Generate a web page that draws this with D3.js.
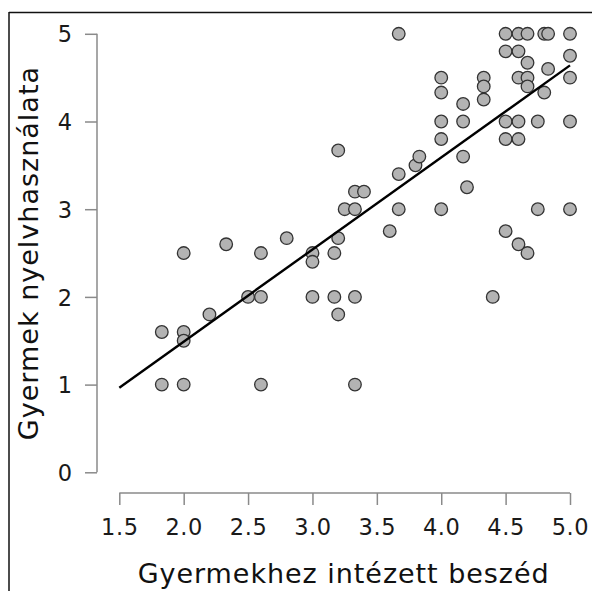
<!DOCTYPE html>
<html>
<head>
<meta charset="utf-8">
<script src="https://cdn.jsdelivr.net/npm/d3@7/dist/d3.min.js"></script>
<style>
  html, body { margin: 0; padding: 0; background: #fff; }
  svg { display: block; font-family: "DejaVu Sans", sans-serif; }
</style>
</head>
<body>
<svg id="chart" width="592" height="591"></svg>
<script>
// ---- data ----
const pointX = [
  1.83, 1.83,
  2.0, 2.0, 2.0, 2.0,
  2.2, 2.33, 2.5,
  2.6, 2.6, 2.6,
  2.8,
  3.0, 3.0, 3.0,
  3.17, 3.17,
  3.2, 3.2, 3.2,
  3.25,
  3.33, 3.33, 3.33, 3.33,
  3.4, 3.6,
  3.67, 3.67, 3.67,
  3.8, 3.83,
  4.0, 4.0, 4.0, 4.0, 4.0,
  4.17, 4.17, 4.17,
  4.2,
  4.33, 4.33, 4.33,
  4.4,
  4.5, 4.5, 4.5, 4.5, 4.5,
  4.6, 4.6, 4.6, 4.6, 4.6, 4.6,
  4.67, 4.67, 4.67, 4.67, 4.67,
  4.75, 4.75,
  4.8, 4.8,
  4.83, 4.83,
  5.0, 5.0, 5.0, 5.0, 5.0
];
const pointY = [
  1.6, 1.0,
  2.5, 1.6, 1.5, 1.0,
  1.8, 2.6, 2.0,
  2.5, 2.0, 1.0,
  2.67,
  2.5, 2.4, 2.0,
  2.5, 2.0,
  3.67, 2.67, 1.8,
  3.0,
  3.2, 3.0, 2.0, 1.0,
  3.2, 2.75,
  5.0, 3.4, 3.0,
  3.5, 3.6,
  4.5, 4.33, 4.0, 3.8, 3.0,
  4.2, 4.0, 3.6,
  3.25,
  4.5, 4.4, 4.25,
  2.0,
  5.0, 4.8, 4.0, 3.8, 2.75,
  5.0, 4.8, 4.5, 4.0, 3.8, 2.6,
  5.0, 4.67, 4.5, 4.4, 2.5,
  4.0, 3.0,
  5.0, 4.33,
  5.0, 4.6,
  5.0, 4.75, 4.5, 4.0, 3.0
];
const fitX = [1.5, 5.0];
const fitY = [0.965, 4.64];
const xTicks = [1.5, 2.0, 2.5, 3.0, 3.5, 4.0, 4.5, 5.0];
const yTicks = [0, 1, 2, 3, 4, 5];
const xTitle = "Gyermekhez intézett beszéd";
const yTitle = "Gyermek nyelvhasználata";

// ---- layout ----
const svg = d3.select("#chart");
const x = d3.scaleLinear().domain([1.5, 5.0]).range([119.3, 570]);
const y = d3.scaleLinear().domain([0, 5]).range([472.3, 33.8]);

// frame (partial border as in the reference crop)
svg.append("line").attr("x1", 9).attr("x2", 592).attr("y1", 12.5).attr("y2", 12.5)
  .attr("stroke", "#111").attr("stroke-width", 1.5);
svg.append("line").attr("x1", 9).attr("x2", 9).attr("y1", 12).attr("y2", 591)
  .attr("stroke", "#111").attr("stroke-width", 1.5);

const axisColor = "#8a8a8a";

// x axis
const xAxis = svg.append("g")
  .attr("transform", "translate(0,493)")
  .call(d3.axisBottom(x).tickValues(xTicks).tickFormat(d3.format(".1f"))
        .tickSizeOuter(0).tickSizeInner(12).tickPadding(6));
xAxis.select(".domain").attr("stroke", axisColor).attr("stroke-width", 1.5)
  .attr("d", `M${x(1.5)},0H${x(5.0)}`);
xAxis.selectAll(".tick line").attr("stroke", axisColor).attr("stroke-width", 1.5);
xAxis.selectAll(".tick text").attr("fill", "#1a1a1a")
  .style("font-size", "22.5px").style("font-family", "DejaVu Sans, sans-serif")
  .style("letter-spacing", "0.6px")
  .attr("dy", null).attr("y", 42);

// y axis
const yAxis = svg.append("g")
  .attr("transform", "translate(97,0)")
  .call(d3.axisLeft(y).tickValues(yTicks).tickFormat(d3.format("d"))
        .tickSizeOuter(0).tickSizeInner(12).tickPadding(12));
yAxis.select(".domain").attr("stroke", axisColor).attr("stroke-width", 1.5)
  .attr("d", `M0,${y(0)}V${y(5)}`);
yAxis.selectAll(".tick line").attr("stroke", axisColor).attr("stroke-width", 1.5);
yAxis.selectAll(".tick text").attr("fill", "#1a1a1a")
  .style("font-size", "22.5px").style("font-family", "DejaVu Sans, sans-serif")
  .attr("x", -25).attr("dy", "0.36em");

// axis titles
svg.append("text")
  .attr("x", (x(1.5) + x(5.0)) / 2 - 1).attr("y", 583)
  .attr("text-anchor", "middle")
  .style("font-size", "27px").style("letter-spacing", "0.95px").attr("fill", "#111")
  .text(xTitle);

svg.append("text")
  .attr("transform", `translate(38,${(y(0) + y(5)) / 2}) rotate(-90)`)
  .attr("text-anchor", "middle")
  .style("font-size", "27px").style("letter-spacing", "1px").attr("fill", "#111")
  .text(yTitle);

// points
const pts = pointX.map((v, i) => ({ x: v, y: pointY[i] }));
svg.append("g").selectAll("circle").data(pts).join("circle")
  .attr("cx", d => x(d.x)).attr("cy", d => y(d.y))
  .attr("r", 6.3)
  .attr("fill", "#b3b3b3").attr("stroke", "#333").attr("stroke-width", 1.3);

// fitted line
svg.append("path")
  .datum(fitX.map((v, i) => [v, fitY[i]]))
  .attr("d", d3.line().x(d => x(d[0])).y(d => y(d[1])))
  .attr("stroke", "#000").attr("stroke-width", 2.4).attr("fill", "none");
</script>
</body>
</html>
